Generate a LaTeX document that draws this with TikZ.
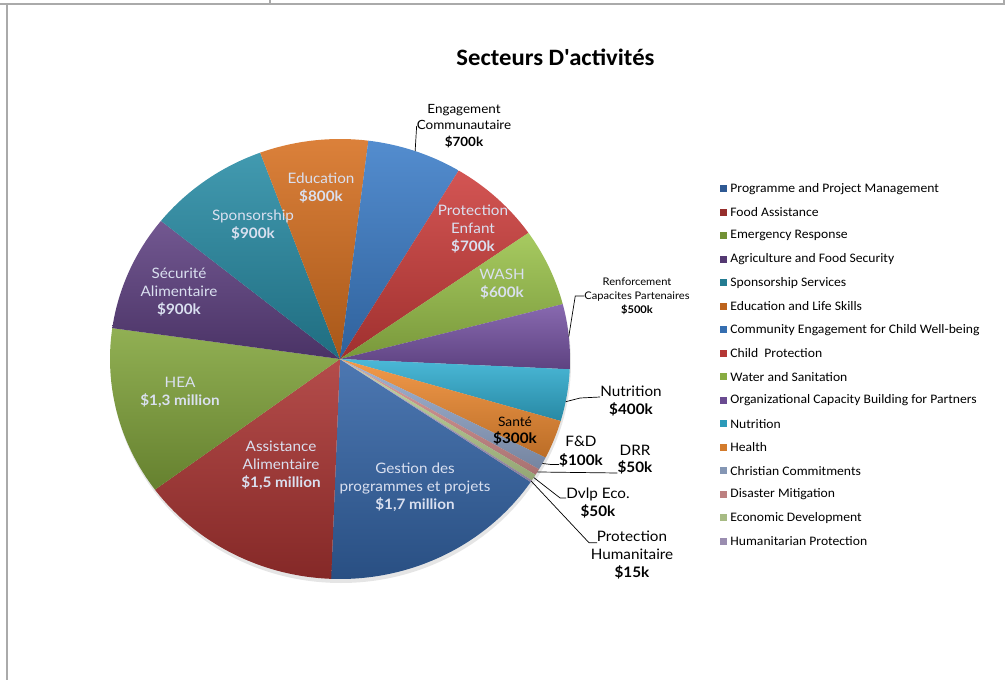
\documentclass[tikz,border=0pt]{standalone}
\usepackage{fontspec}
\setmainfont{Carlito}[FakeStretch=1.05]
\newfontfamily\titlefont{Carlito}[FakeStretch=1.05, Ligatures=TeXOff]
\newfontfamily\gillfont{Lato}[FakeStretch=1.06]
\usetikzlibrary{calc,positioning}

\definecolor{cProg}{RGB}{52,101,167}
\definecolor{cFood}{RGB}{170,52,50}
\definecolor{cEmer}{RGB}{130,165,60}
\definecolor{cAgri}{RGB}{95,65,130}
\definecolor{cSpon}{RGB}{40,140,165}
\definecolor{cEduc}{RGB}{215,112,32}
\definecolor{cComm}{RGB}{60,125,200}
\definecolor{cChild}{RGB}{205,62,60}
\definecolor{cWash}{RGB}{155,195,75}
\definecolor{cOrg}{RGB}{120,85,165}
\definecolor{cNutr}{RGB}{50,175,210}
\definecolor{cHeal}{RGB}{240,140,50}
\definecolor{cChr}{RGB}{150,170,205}
\definecolor{cDis}{RGB}{215,145,145}
\definecolor{cEco}{RGB}{190,212,150}
\definecolor{cHum}{RGB}{175,160,200}
\definecolor{sliceText}{RGB}{218,224,240}
\definecolor{frameGray}{RGB}{170,170,170}

\tikzset{
  slicelabel/.style={align=center, text=sliceText, inner sep=0pt,
    font=\gillfont\fontsize{14.4}{18}\selectfont},
  outlabel/.style={align=center, text=black, inner sep=0pt,
    font=\gillfont\fontsize{14.4}{18}\selectfont},
  leader/.style={draw=black, line width=0.7pt},
  legendkey/.style={minimum size=7pt, inner sep=0pt},
  legendentry/.style={anchor=west, inner sep=0pt, font=\fontsize{13}{14}\selectfont},
  frameline/.style={draw=frameGray, line width=1.6pt}
}

\begin{document}
\begin{tikzpicture}[x=1pt,y=1pt]
\useasboundingbox (-340,-321) rectangle (668,359);
% page frame
\draw[frameline] (-340,355) -- (665,355);
\draw[frameline] (-333,355) -- (-333,-321);
\draw[frameline] (-70,359) -- (-70,355);
\draw[frameline] (664,359) -- (664,355);

\coordinate (C) at (0,0);
\fill[black!25, opacity=.4] (1,-4) ellipse [x radius=230, y radius=220];
% slices, clockwise from -34 deg
\foreach \a/\b/\c in {-34/-92.20/cProg, -92.20/-143.56/cFood, -143.56/-188.07/cEmer,
    -188.07/-218.88/cAgri, -218.88/-249.69/cSpon, -249.69/-277.08/cEduc,
    -277.08/-301.05/cComm, -301.05/-325.02/cChild, -325.02/-345.56/cWash,
    -345.56/-362.68/cOrg, -362.68/-376.37/cNutr, -376.37/-386.64/cHeal,
    -386.64/-390.06/cChr, -390.06/-391.77/cDis, -391.77/-393.48/cEco,
    -393.48/-394.00/cHum}
  \shade[top color=\c!88!white, bottom color=\c!78!black]
    (C) -- (\a:230 and 220) arc[start angle=\a, end angle=\b, x radius=230, y radius=220] -- cycle;

\node[font=\titlefont\bfseries\fontsize{23.5}{26}\selectfont] (title) at (215.5,302) {Secteurs D'activités};

% labels inside the slices
\node[slicelabel] (progLabel) at (75,-128) {Gestion des\\programmes et projets\\\textbf{\$1,7 million}};
\node[slicelabel] (foodLabel) at (-59,-106) {Assistance\\Alimentaire\\\textbf{\$1,5 million}};
\node[slicelabel] (emerLabel) at (-160,-33.5) {HEA\\\textbf{\$1,3 million}};
\node[slicelabel] (agriLabel) at (-161,67) {Sécurité\\Alimentaire\\\textbf{\$900k}};
\node[slicelabel] (sponLabel) at (-87,134) {Sponsorship\\\textbf{\$900k}};
\node[slicelabel] (educLabel) at (-19,171) {Education\\\textbf{\$800k}};
\node[slicelabel] (childLabel) at (133,130) {Protection\\Enfant\\\textbf{\$700k}};
\node[slicelabel] (washLabel) at (162,74.5) {WASH\\\textbf{\$600k}};
\node[outlabel, font=\gillfont\fontsize{13}{17}\selectfont] (healLabel) at (175,-72.5) {Santé\\\textbf{\fontsize{14.4}{17}\selectfont\$300k}};

% labels outside, with leader lines
\coordinate (eComm) at (70.93:230 and 220);
\coordinate (eOrg) at (5.88:230 and 220);
\coordinate (eNutr) at (-11.2:230 and 220);
\coordinate (eChr) at (-28.35:230 and 220);
\coordinate (eDis) at (-30.9:230 and 220);
\coordinate (eEco) at (-32.6:230 and 220);
\coordinate (eHum) at (-33.74:230 and 220);

\node[outlabel, font=\gillfont\fontsize{12.7}{16.5}\selectfont] (commLabel) at (124,233) {Engagement\\Communautaire\\\textbf{\$700k}};
\node[outlabel, font=\gillfont\fontsize{10.5}{14}\selectfont] (orgLabel) at (297,63) {Renforcement\\Capacites Partenaires\\\textbf{\$500k}};
\node[outlabel] (nutrLabel) at (291,-42) {Nutrition\\\textbf{\$400k}};
\node[outlabel, font=\gillfont\fontsize{14.4}{19}\selectfont] (chrLabel) at (241,-92.5) {F\&D\\\textbf{\$100k}};
\node[outlabel, font=\gillfont\fontsize{14.4}{17}\selectfont] (disLabel) at (295,-100.5) {DRR\\\textbf{\$50k}};
\node[outlabel] (ecoLabel) at (258,-144) {Dvlp Eco.\\\textbf{\$50k}};
\node[outlabel] (humLabel) at (292,-196) {Protection\\Humanitaire\\\textbf{\$15k}};

\draw[leader] (eComm) -- (commLabel.west);
\draw[leader] (eOrg) -- ($(orgLabel.west)+(-9,0)$) -- (orgLabel.west);
\draw[leader] (eNutr) -- ($(nutrLabel.west)+(-20,3)$) -- ([yshift=4pt]nutrLabel.west);
\draw[leader] (eChr) -- ($(chrLabel.west)+(-8,-13)$) -- ([yshift=-13pt]chrLabel.west);
\draw[leader] (eDis) -- ([yshift=-13.5pt]disLabel.west);
\draw[leader] (eEco) -- ($(ecoLabel.west)+(-6,5)$) -- ([yshift=5pt]ecoLabel.west);
\draw[leader] (eHum) -- ($(humLabel.north)+(-43,-12)$) -- ($(humLabel.north)+(-35,-12)$);

% legend
\foreach \c/\t [count=\i from 0] in {cProg/Programme and Project Management, cFood/Food Assistance,
    cEmer/Emergency Response, cAgri/Agriculture and Food Security, cSpon/Sponsorship Services,
    cEduc/Education and Life Skills, cComm/Community Engagement for Child Well-being,
    cChild/Child~ Protection, cWash/Water and Sanitation,
    cOrg/Organizational Capacity Building for Partners, cNutr/Nutrition, cHeal/Health,
    cChr/Christian Commitments, cDis/Disaster Mitigation, cEco/Economic Development,
    cHum/Humanitarian Protection}
{
  \node[legendkey, fill=\c!88!black] (key\i) at ({383},{170-23.47*\i}) {};
  \node[legendentry, right=3.5pt of key\i] (leg\i) {\t};
}
\end{tikzpicture}
\end{document}
